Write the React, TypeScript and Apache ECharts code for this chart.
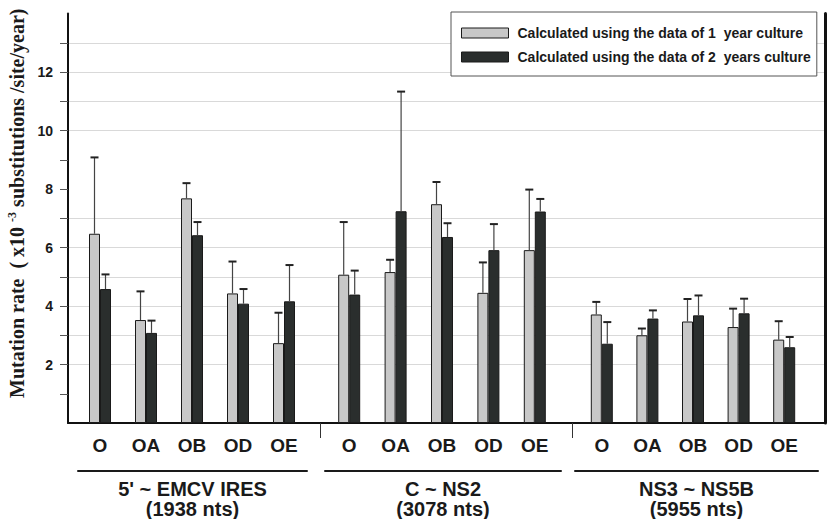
import React, { useEffect, useRef } from "react";
import * as echarts from "echarts";

const categories = ["O", "OA", "OB", "OD", "OE"];
const groupTitles = ["5' ~ EMCV IRES\n(1938 nts)", "C ~ NS2\n(3078 nts)", "NS3 ~ NS5B\n(5955 nts)"];
const legendNames = [
  "Calculated using the data of 1  year culture",
  "Calculated using the data of 2  years culture",
];

// mean values (x10^-3 substitutions/site/year)
const year1Group1 = [6.47, 3.52, 7.68, 4.43, 2.73];
const year2Group1 = [4.58, 3.08, 6.42, 4.08, 4.16];
const year1Group2 = [5.07, 5.16, 7.48, 4.45, 5.91];
const year2Group2 = [4.39, 7.24, 6.36, 5.91, 7.23];
const year1Group3 = [3.71, 3.0, 3.47, 3.28, 2.85];
const year2Group3 = [2.71, 3.57, 3.68, 3.75, 2.59];

// upper end of error bars
const year1Upper1 = [9.08, 4.5, 8.2, 5.52, 3.77];
const year2Upper1 = [5.08, 3.5, 6.87, 4.58, 5.4];
const year1Upper2 = [6.87, 5.58, 8.24, 5.49, 7.98];
const year2Upper2 = [5.21, 11.33, 6.83, 6.8, 7.66];
const year1Upper3 = [4.14, 3.23, 4.24, 3.91, 3.48];
const year2Upper3 = [3.45, 3.85, 4.36, 4.25, 2.94];

const yTickValues = [1, 2, 3, 4, 5, 6, 7, 8, 9, 10, 11, 12, 13];
const yLabelValues = [2, 4, 6, 8, 10, 12];

const SANS = "'Liberation Sans', Arial, Helvetica, sans-serif";
const SERIF = "'Liberation Serif', 'Times New Roman', serif";
const LIGHT = "#c8c8c8";
const DARK = "#2a2e2d";

export default function App() {
  const ref = useRef<HTMLDivElement>(null);

  useEffect(() => {
    if (!ref.current) return;
    const chart = echarts.init(ref.current, null, { renderer: "svg" });

    const TOP = 13.5;
    const BOTTOM = 96;
    const barGrids = [
      { left: 77, width: 230 },
      { left: 326, width: 232 },
      { left: 579, width: 228 },
    ];
    const lineGrids = [
      { left: 78, width: 229 },
      { left: 325, width: 236 },
      { left: 575, width: 243 },
    ];

    const gridBase = { top: TOP, bottom: BOTTOM, containLabel: false, outerBoundsMode: "none" };
    const grids: any[] = [{ ...gridBase, left: 68, right: 2 }];
    barGrids.forEach((g) => grids.push({ ...gridBase, left: g.left, width: g.width }));
    lineGrids.forEach((g) => grids.push({ ...gridBase, left: g.left, width: g.width }));

    const xAxes: any[] = [
      {
        type: "value",
        gridIndex: 0,
        min: 0,
        max: 3,
        interval: 1,
        axisLine: { show: true, onZero: false, lineStyle: { color: "#111", width: 2 } },
        axisTick: { show: true, inside: false, length: 15, customValues: [1, 2], lineStyle: { color: "#333", width: 1 } },
        axisLabel: { show: false },
        splitLine: { show: false },
      },
    ];
    barGrids.forEach((_, i) =>
      xAxes.push({
        type: "category",
        gridIndex: 1 + i,
        data: categories,
        axisLine: { show: false },
        axisTick: { show: false },
        splitLine: { show: false },
        axisLabel: {
          margin: 13,
          fontFamily: SANS,
          fontWeight: "bold",
          fontSize: 19,
          color: "#1a1a1a",
        },
      })
    );
    lineGrids.forEach((_, i) =>
      xAxes.push({
        type: "value",
        gridIndex: 4 + i,
        position: "bottom",
        min: 0,
        max: 1,
        offset: 48,
        axisLine: { show: true, onZero: false, lineStyle: { color: "#1a1a1a", width: 2 } },
        axisTick: { show: false },
        axisLabel: { show: false },
        splitLine: { show: false },
        name: groupTitles[i],
        nameLocation: "middle",
        nameGap: 8,
        nameTextStyle: {
          fontFamily: SANS,
          fontWeight: "bold",
          fontSize: 20,
          lineHeight: 20,
          color: "#1a1a1a",
          verticalAlign: "top",
        },
      })
    );

    const yAxes: any[] = [
      {
        type: "value",
        gridIndex: 0,
        min: 0,
        max: 14,
        interval: 2,
        axisLine: { show: true, lineStyle: { color: "#111", width: 2 } },
        axisTick: { show: true, inside: false, length: 8, customValues: yTickValues, lineStyle: { color: "#555", width: 1 } },
        axisLabel: {
          customValues: yLabelValues,
          margin: 15,
          fontFamily: SANS,
          fontWeight: "bold",
          fontSize: 14,
          color: "#1a1a1a",
        },
        splitLine: {
          show: true,
          lineStyle: {
            color: [
              "rgba(0,0,0,0)",
              "#d9d9d9",
              "#d9d9d9",
              "#d9d9d9",
              "#d9d9d9",
              "#d9d9d9",
              "#d9d9d9",
              "rgba(0,0,0,0)",
            ],
            width: 1,
          },
        },
        name: "{a|Mutation rate  ( x10 }{s|-3}{a| substitutions /site/year)}",
        nameLocation: "middle",
        nameRotate: 90,
        nameGap: 38,
        nameTextStyle: {
          padding: [0, 0, 0, 30],
          rich: {
            a: { fontFamily: SERIF, fontWeight: "bold", fontSize: 20, color: "#1a1a1a" },
            s: { fontFamily: SERIF, fontWeight: "bold", fontSize: 12, color: "#1a1a1a", verticalAlign: "top", padding: [0, 0, 9, 0] },
          },
        },
      },
      {
        type: "value",
        gridIndex: 0,
        position: "right",
        min: 0,
        max: 14,
        axisLine: { show: true, lineStyle: { color: "#111", width: 3 } },
        axisTick: { show: false },
        axisLabel: { show: false },
        splitLine: { show: false },
      },
    ];
    for (let i = 0; i < 6; i++) {
      yAxes.push({
        type: "value",
        gridIndex: 1 + i,
        min: 0,
        max: i < 3 ? 14 : 1,
        show: false,
      });
    }

    const means = [
      [year1Group1, year2Group1],
      [year1Group2, year2Group2],
      [year1Group3, year2Group3],
    ];
    const uppers = [
      [year1Upper1, year2Upper1],
      [year1Upper2, year2Upper2],
      [year1Upper3, year2Upper3],
    ];
    const BAR_W = 11;

    const series: any[] = [];
    for (let g = 0; g < 3; g++) {
      for (let s = 0; s < 2; s++) {
        series.push({
          type: "bar",
          name: legendNames[s],
          xAxisIndex: 1 + g,
          yAxisIndex: 2 + g,
          barWidth: BAR_W,
          barGap: "0%",
          data: means[g][s],
          itemStyle: {
            color: s === 0 ? LIGHT : DARK,
            borderColor: "#1a1a1a",
            borderWidth: 1,
          },
        });
      }
    }
    for (let g = 0; g < 3; g++) {
      for (let s = 0; s < 2; s++) {
        const offset = s === 0 ? -BAR_W / 2 : BAR_W / 2;
        series.push({
          type: "custom",
          name: "err" + g + s,
          xAxisIndex: 1 + g,
          yAxisIndex: 2 + g,
          encode: { x: 0, y: [1, 2] },
          data: categories.map((_, i) => [i, means[g][s][i], uppers[g][s][i]]),
          renderItem: (params: any, api: any) => {
            const base = api.coord([api.value(0), api.value(1)]);
            const top = api.coord([api.value(0), api.value(2)]);
            const cx = base[0] + offset;
            return {
              type: "group",
              children: [
                {
                  type: "line",
                  shape: { x1: cx, y1: base[1], x2: cx, y2: top[1] },
                  style: { stroke: "#444", lineWidth: 1.2 },
                },
                {
                  type: "line",
                  shape: { x1: cx - 4, y1: top[1], x2: cx + 4, y2: top[1] },
                  style: { stroke: "#222", lineWidth: 2 },
                },
              ],
            };
          },
          z: 3,
        });
      }
    }

    chart.setOption({
      animation: false,
      backgroundColor: "#fff",
      legend: {
        data: legendNames,
        orient: "vertical",
        left: 451,
        top: 12,
        padding: [14, 6, 12, 10],
        itemGap: 10,
        itemWidth: 47,
        itemHeight: 10,
        icon: "rect",
        backgroundColor: "#fff",
        borderColor: "#555",
        borderWidth: 1,
        borderRadius: 0,
        selectedMode: false,
        itemStyle: { borderColor: "#1a1a1a", borderWidth: 1 },
        textStyle: {
          fontFamily: SANS,
          fontWeight: "bold",
          fontSize: 14,
          lineHeight: 14,
          color: "#1a1a1a",
          padding: [0, 0, 0, 4],
        },
      },
      grid: grids,
      xAxis: xAxes,
      yAxis: yAxes,
      series,
    });

    return () => chart.dispose();
  }, []);

  return (
    <div
      ref={ref}
      style={{ position: "fixed", left: 0, top: 0, width: 827, height: 519, background: "#fff" }}
    />
  );
}
